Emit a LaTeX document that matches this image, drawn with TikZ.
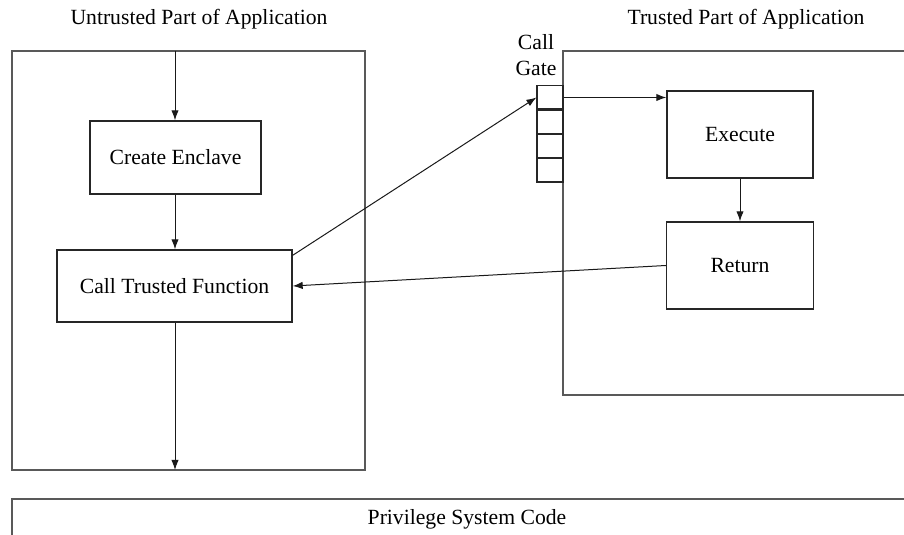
\documentclass[tikz,border=0pt]{standalone}
\usepackage{fontspec}
\setmainfont{Liberation Serif}
\usetikzlibrary{arrows.meta}

\tikzset{
  area/.style={draw=black!65, line width=0.9pt},
  txt/.style={font=\fontsize{13}{15}\selectfont},
  part/.style={txt, draw=black!85, line width=0.8pt, inner sep=0pt},
  cell/.style={draw=black!85, line width=0.7pt, inner sep=0pt, minimum width=15.6pt, minimum height=13.9pt},
  flow/.style={-{Latex[length=6pt,width=4.4pt]}, line width=0.6pt, black!90}
}

\begin{document}
\begin{tikzpicture}[x=0.6pt,y=-0.6pt]
    \useasboundingbox (0,0) rectangle (904,535);
    %definitions
    \coordinate (UL) at (12,51);
    \coordinate (UR) at (365,470);
    \coordinate (TL) at (563,51);
    \coordinate (TR) at (905,395);
    \coordinate (SL) at (12,499);
    \coordinate (top) at (175,51);
    \coordinate (bot) at (175,470);
    %drawing
    \draw[area] (UL) rectangle (UR);
    \draw[area] (TR) -- (TL |- TR) -- (TL) -- (TL -| TR);
    \draw[area] (12,536) -- (SL) -- (905,499);
    %boxes
    \node[part, minimum width=102.6pt, minimum height=43.8pt] (create) at (175.5,157.5) {Create Enclave};
    \node[part, minimum width=141pt, minimum height=43.2pt] (call) at (174.5,286) {Call Trusted Function};
    \node[part, minimum width=87.6pt, minimum height=52.2pt] (exec) at (740,134.5) {Execute};
    \node[part, minimum width=88.2pt, minimum height=52.2pt] (ret) at (740,265.5) {Return};
    %gate
    \node[cell] (g1) at (550,97.5) {};
    \node[cell, anchor=north] (g2) at (g1.south) {};
    \node[cell, anchor=north] (g3) at (g2.south) {};
    \node[cell, anchor=north] (g4) at (g3.south) {};
    %label
    \node[txt] (untrusted) at (199,19) {Untrusted Part of Application};
    \node[txt] (trusted) at (746,19) {Trusted Part of Application};
    \node[txt, align=center] (gate) at (536,55) {Call\\[1pt]Gate};
    \node[txt] (priv) at (467,519) {Privilege System Code};
    %connectors
    \draw[flow] (top) -- (top |- create.north);
    \draw[flow] (create.south -| top) -- (top |- call.north);
    \draw[flow] (call.south -| top) -- (bot);
    \draw[flow] ([yshift=-3.6pt]call.north east) -- (g1.west);
    \draw[flow] (g1.east) -- (g1.east -| exec.west);
    \draw[flow] (exec) -- (ret);
    \draw[flow] (ret.west) -- (call.east);
\end{tikzpicture}
\end{document}
